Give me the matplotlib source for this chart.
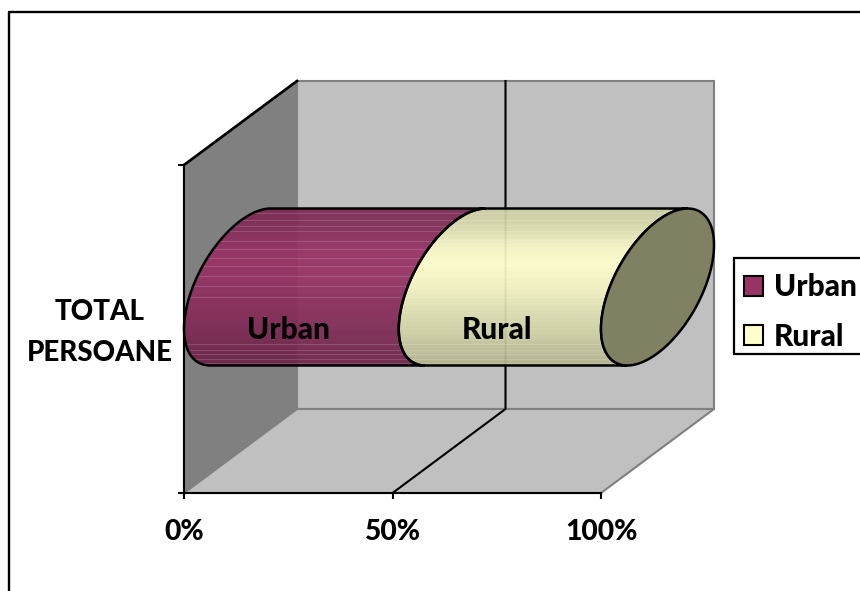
import numpy as np
import matplotlib
matplotlib.use("Agg")
import matplotlib.pyplot as plt
from matplotlib.patches import Polygon, PathPatch, Rectangle, Patch
from matplotlib.path import Path
from matplotlib.lines import Line2D
from matplotlib.colors import to_rgb

plt.rcParams['font.family'] = ['Lato', 'DejaVu Sans']

series_names = ['Urban', 'Rural']
series_values = [51.5, 48.5]
series_colors = ['#993366', '#FFFFCC']
category = 'TOTAL\nPERSOANE'
x_ticks = [0, 50, 100]
x_tick_labels = ['0%', '50%', '100%']

W, H = 860, 591
WEIGHT = 900
fig = plt.figure(figsize=(W / 100, H / 100), dpi=100)
fig.patch.set_facecolor('white')
ax = fig.add_axes([184 / W, (H - 493) / H, 417 / W, 328 / H])
ax.patch.set_visible(False)

DX, DY = 113 / 417 * 100, 84 / 328   # depth offset in data units
B = 66.3 / 328
LW = 1.5


def iso(x, y, d):
    return x + d * DX, y + d * DY


def wall(pts, color, z):
    ax.add_patch(Polygon([iso(*p) for p in pts], closed=True, fc=color, ec='#808080',
                         lw=1.5, zorder=z, clip_on=False))


wall([(0, 0, 0), (0, 1, 0), (0, 1, 1), (0, 0, 1)], '#808080', 1)
wall([(0, 0, 1), (0, 1, 1), (100, 1, 1), (100, 0, 1)], '#C0C0C0', 1)
wall([(0, 0, 0), (100, 0, 0), (100, 0, 1), (0, 0, 1)], '#C0C0C0', 1)

# 50% gridline on floor and back wall
for x in x_ticks[1:-1]:
    p = [iso(x, 0, 0), iso(x, 0, 1), iso(x, 1, 1)]
    ax.plot(*zip(*p), color='black', lw=LW, zorder=2, clip_on=False)
# black top edge of the side wall
p = [iso(0, 1, 0), iso(0, 1, 1)]
ax.plot(*zip(*p), color='black', lw=LW + 0.4, zorder=2, clip_on=False)


def ring(pct, t):
    d = 0.5 + 0.5 * np.cos(t)
    return pct + d * DX, 0.5 + d * DY + B * np.sin(t)


t0 = np.arctan2(B, 0.5 * DY)
left_arc = np.linspace(t0, t0 + np.pi, 80)
full = np.linspace(0, 2 * np.pi, 200)
y_lo = ring(0, t0 + np.pi)[1]
y_hi = ring(0, t0)[1]

# light hairlines seen across the shaded bar
band_fracs = [0.03, 0.075, 0.11, 0.145, 0.205, 0.255, 0.315, 0.365, 0.43, 0.495, 0.565,
              0.865, 0.90, 0.93, 0.96, 0.985]

shade_pos = [0.0, 0.12, 0.25, 0.35, 0.50, 0.75, 0.90, 1.0]
shade_val = [0.80, 0.86, 0.97, 1.00, 0.96, 0.84, 0.76, 0.70]
n_steps = 40
grad_pos = (np.arange(n_steps) + 0.5) / n_steps
grad_val = np.interp(grad_pos, shade_pos, shade_val)

start = 0.0
for name, val, col in zip(series_names, series_values, series_colors):
    end = start + val
    xa, ya = ring(start, left_arc)
    xb, yb = ring(end, left_arc[::-1])
    verts = np.column_stack([np.r_[xa, xb], np.r_[ya, yb]])
    poly = Path(np.vstack([verts, verts[0]]), closed=True)
    rgb = np.array(to_rgb(col))
    img = grad_val[:, None, None] * rgb[None, None, :]
    im = ax.imshow(img, extent=(-10, 140, y_lo, y_hi), aspect='auto', origin='upper',
                   interpolation='nearest', alpha=0.93, zorder=3 + start / 100)
    clip = PathPatch(poly, transform=ax.transData, fc='none', ec='none', clip_on=False)
    ax.add_patch(clip)
    im.set_clip_path(clip)
    im.set_clip_box(fig.bbox)
    for f in band_fracs:
        yy = y_hi - f * (y_hi - y_lo)
        ln, = ax.plot([-10, 140], [yy, yy], color='white', alpha=0.15, lw=0.8,
                      zorder=3.5 + start / 100)
        ln.set_clip_path(clip)
        ln.set_clip_box(fig.bbox)
    ax.add_patch(PathPatch(poly, fc='none', ec='black', lw=LW + 0.3, zorder=4 + start / 100,
                           clip_on=False))
    ax.text(start + val / 2 - 0.7, 0.497, name, ha='center', va='center',
            fontsize=21.5, fontweight=WEIGHT, color='black', zorder=6)
    start = end

# end cap
cx, cy = ring(start, full)
ax.add_patch(Polygon(np.column_stack([cx, cy]), closed=True, fc='#808062', ec='black',
                     lw=LW + 0.3, zorder=5, clip_on=False))

ax.set_xlim(0, 100)
ax.set_ylim(0, 1)
for s in ['top', 'right']:
    ax.spines[s].set_visible(False)
for s in ['left', 'bottom']:
    ax.spines[s].set_linewidth(LW)
    ax.spines[s].set_zorder(6)
ax.set_xticks(x_ticks)
ax.set_xticklabels(x_tick_labels, fontsize=20.3, fontweight=WEIGHT)
ax.set_yticks([0, 1])
ax.set_yticklabels([])
ax.tick_params(length=4, width=1.5, pad=15)

fig.text(99.5 / W, 1 - 332.5 / H, category, ha='center', va='center', fontsize=20,
         fontweight=WEIGHT, linespacing=1.72)

# legend: frame runs off the right edge
fig.add_artist(Rectangle((733.5 / W, 1 - 354 / H), 140 / W, 96 / H, fc='white', ec='black',
                         lw=1.6, transform=fig.transFigure, clip_on=True))
handles = [Patch(fc=c, ec='black', lw=1.5) for c in series_colors]
leg = fig.legend(handles, series_names, loc='center left', bbox_to_anchor=(744 / W, 1 - 312 / H),
                 frameon=False, prop={'size': 21.5, 'weight': WEIGHT}, handlelength=0.63,
                 handleheight=0.63, handletextpad=0.36, labelspacing=0.72,
                 borderpad=0, borderaxespad=0)

# outer chart border, open at right and bottom
fig.add_artist(Line2D([8.5 / W, 8.5 / W, 1], [0, 1 - 11.5 / H, 1 - 11.5 / H], color='black',
                      lw=1.7, transform=fig.transFigure))

fig.savefig('out.png', dpi=100)
